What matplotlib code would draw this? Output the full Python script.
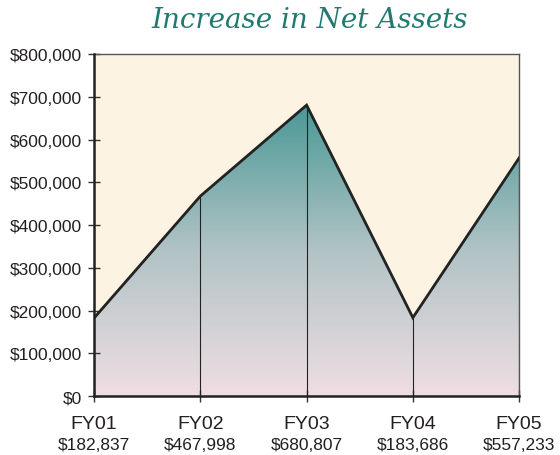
import numpy as np
import matplotlib.pyplot as plt
from matplotlib.colors import LinearSegmentedColormap
from matplotlib.patches import Polygon
from matplotlib.ticker import FuncFormatter, MultipleLocator
from matplotlib import font_manager

# ----------------------------------------------------
# DATA
# ----------------------------------------------------
years = ["FY01", "FY02", "FY03", "FY04", "FY05"]
net_assets = [182837, 467998, 680807, 183686, 557233]

# narrow face for the year labels, if it is installed
names = {f.name for f in font_manager.fontManager.ttflist}
narrow = 'Liberation Sans Narrow' if 'Liberation Sans Narrow' in names else 'Liberation Sans'
year_size = 16 if narrow == 'Liberation Sans Narrow' else 14

# ----------------------------------------------------
# FIGURE
# ----------------------------------------------------
plt.rcParams['font.family'] = ['Liberation Sans', 'DejaVu Sans']
fig = plt.figure(figsize=(5.6, 4.56), dpi=100)
ax = fig.add_axes([0.168, 0.129, 0.759, 0.750])
ax.set_facecolor('#fdf3e3')

x = np.arange(len(years))
y = np.array(net_assets, dtype=float)

# gradient fill under the line, clipped to the area polygon
cmap = LinearSegmentedColormap.from_list(
    'teal_pink', ['#efdee3', '#b1c3c5', '#4a9896'])
grad = np.linspace(0, 1, 256).reshape(-1, 1)
im = ax.imshow(grad, extent=[x[0], x[-1], 0, y.max()], aspect='auto',
               cmap=cmap, origin='lower', zorder=1)
verts = np.column_stack([np.r_[x, x[::-1]], np.r_[y, np.zeros_like(y)]])
area = Polygon(verts, closed=True, facecolor='none', edgecolor='none')
ax.add_patch(area)
im.set_clip_path(area)

# drop lines and outline
ax.vlines(x, 0, y, color='#222222', linewidth=0.8, zorder=2)
ax.plot(x, y, color='#222222', linewidth=2.0, zorder=3,
        solid_joinstyle='miter')

ax.set_xlim(x[0], x[-1])
ax.set_ylim(0, 800000)

# axes styling
for side in ['top', 'right']:
    ax.spines[side].set_color('#555555')
    ax.spines[side].set_linewidth(1.0)
for side in ['left', 'bottom']:
    ax.spines[side].set_color('#222222')
    ax.spines[side].set_linewidth(1.8)
ax.spines['left'].set_zorder(4)
ax.spines['bottom'].set_zorder(4)

ax.yaxis.set_major_locator(MultipleLocator(100000))
ax.yaxis.set_major_formatter(FuncFormatter(lambda v, p: f"\\${v:,.0f}"))
ax.tick_params(axis='y', direction='inout', length=8, width=1,
               color='#333333', labelsize=12.5, pad=5, labelcolor='#231f20')
ax.set_xticks(x)
ax.set_xticklabels([])
ax.tick_params(axis='x', direction='inout', length=8, width=1,
               color='#333333')

for xi, yr, val in zip(x, years, net_assets):
    ax.annotate(yr, xy=(xi, 0), xycoords=('data', 'axes fraction'),
                xytext=(0, -19.5), textcoords='offset points',
                ha='center', va='center', fontsize=year_size,
                family=narrow, color='#231f20')
    ax.annotate(f"\\${val:,.0f}", xy=(xi, 0), xycoords=('data', 'axes fraction'),
                xytext=(0, -34.5), textcoords='offset points',
                ha='center', va='center', fontsize=12.5, color='#231f20')

fig.text(310 / 560, 0.956, "Increase in Net Assets", ha='center', va='center',
         fontsize=20, color='#1f7a70', family='DejaVu Serif',
         style='italic')

fig.savefig('out.png', dpi=100)
